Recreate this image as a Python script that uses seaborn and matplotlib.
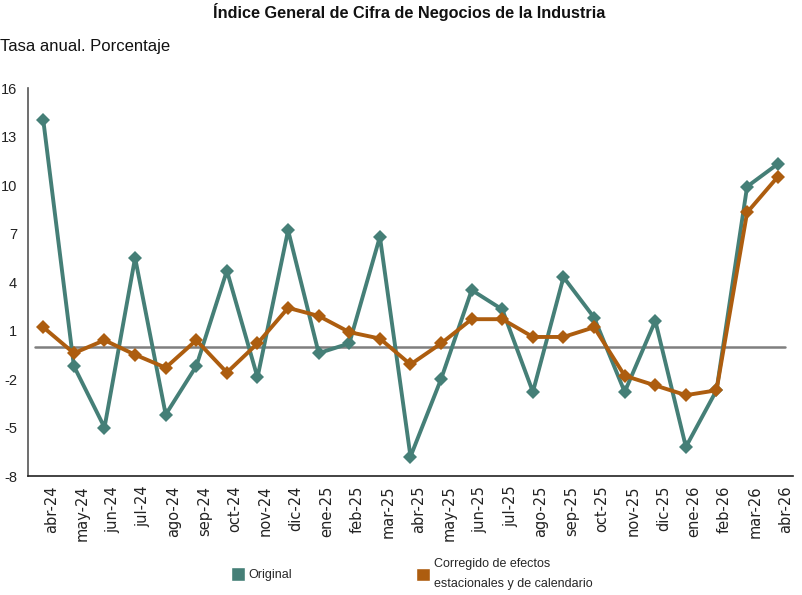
import matplotlib
matplotlib.use("Agg")
import matplotlib.pyplot as plt
import matplotlib.transforms as mtransforms
from matplotlib.patches import Patch
import pandas as pd
import seaborn as sns

months = [
    "abr-24", "may-24", "jun-24", "jul-24", "ago-24", "sep-24", "oct-24",
    "nov-24", "dic-24", "ene-25", "feb-25", "mar-25", "abr-25", "may-25",
    "jun-25", "jul-25", "ago-25", "sep-25", "oct-25", "nov-25", "dic-25",
    "ene-26", "feb-26", "mar-26", "abr-26",
]
original = [
    14.0, -1.2, -5.0, 5.5, -4.2, -1.2, 4.7, -1.9, 7.2, -0.4, 0.2, 6.8, -6.8,
    -2.0, 3.5, 2.3, -2.8, 4.3, 1.8, -2.8, 1.6, -6.2, -2.7, 9.9, 11.3,
]
corregido = [
    1.2, -0.4, 0.4, -0.5, -1.3, 0.4, -1.6, 0.2, 2.4, 1.9, 0.9, 0.5, -1.1,
    0.2, 1.7, 1.7, 0.6, 0.6, 1.2, -1.8, -2.4, -3.0, -2.7, 8.3, 10.5,
]
series_names = ["Original", "Corregido de efectos\nestacionales y de calendario"]
y_ticks = [-8, -5, -2, 1, 4, 7, 10, 13, 16]

TEAL = "#457f77"
ORANGE = "#ad5d0f"

sns.set_theme(style="white")
plt.rcParams["font.family"] = ["Liberation Sans", "DejaVu Sans"]

df = pd.DataFrame(
    {
        "Mes": months * 2,
        "Tasa": original + corregido,
        "Serie": [series_names[0]] * len(months) + [series_names[1]] * len(months),
    }
)

fig = plt.figure(figsize=(8.03, 5.95), dpi=100)
ax = fig.add_axes([28 / 803, 1 - 476 / 595, 765 / 803, 388 / 595])

sns.lineplot(
    data=df, x="Mes", y="Tasa", hue="Serie", palette=[TEAL, ORANGE],
    marker="D", markersize=7.5, markeredgewidth=0, linewidth=2.8,
    sort=False, legend=False, ax=ax,
)
ax.axhline(0, xmin=7 / 765, xmax=757 / 765, color="#7f7f7f", linewidth=1.8, zorder=1)

ax.set_xlim(-0.5, len(months) - 0.5)
ax.set_ylim(-8, 16)
ax.set_yticks(y_ticks)
ax.set_yticklabels([str(v) for v in y_ticks], fontsize=10.5, color="#222222")
ax.set_xlabel("")
ax.set_ylabel("")

ax.set_xticks(range(len(months)))
ax.set_xticklabels(months, rotation=90, fontsize=10.5, family="DejaVu Sans", color="#222222")
ax.set_xticks([i - 0.5 for i in range(1, len(months) + 1)], minor=True)
ax.tick_params(axis="x", which="major", length=0, pad=7)
ax.tick_params(axis="x", which="minor", length=11, width=1, color="#333333", direction="out")
ax.tick_params(axis="y", length=5, width=1, color="#555555", direction="out", pad=3)
shift = mtransforms.ScaledTranslation(8 / 100, 0, fig.dpi_scale_trans)
for lab in ax.get_xticklabels():
    lab.set_transform(lab.get_transform() + shift)

for side in ["top", "right"]:
    ax.spines[side].set_visible(False)
ax.spines["left"].set_color("#555555")
ax.spines["bottom"].set_color("#222222")
ax.spines["left"].set_linewidth(1.2)
ax.spines["bottom"].set_linewidth(1.2)

fig.text(409 / 803, 1 - 12 / 595, "Índice General de Cifra de Negocios de la Industria",
         ha="center", va="center", fontsize=11.7, fontweight="bold", color="#111111")
fig.text(0.0, 1 - 47 / 595, "Tasa anual. Porcentaje",
         ha="left", va="center", fontsize=12, color="#111111")

handles = [Patch(facecolor=TEAL), Patch(facecolor=ORANGE)]
leg1 = fig.legend(handles[:1], series_names[:1], loc="center left",
                  bbox_to_anchor=(220 / 803, 1 - 574 / 595), frameon=False, fontsize=9,
                  handlelength=1.1, handleheight=1.3, handletextpad=0.3)
leg2 = fig.legend(handles[1:], series_names[1:], loc="center left",
                  bbox_to_anchor=(405 / 803, 1 - 574 / 595), frameon=False, fontsize=9,
                  handlelength=1.1, handleheight=1.3, handletextpad=0.3)
leg2.get_texts()[0].set_linespacing(1.9)

fig.savefig("out.png", dpi=100)
